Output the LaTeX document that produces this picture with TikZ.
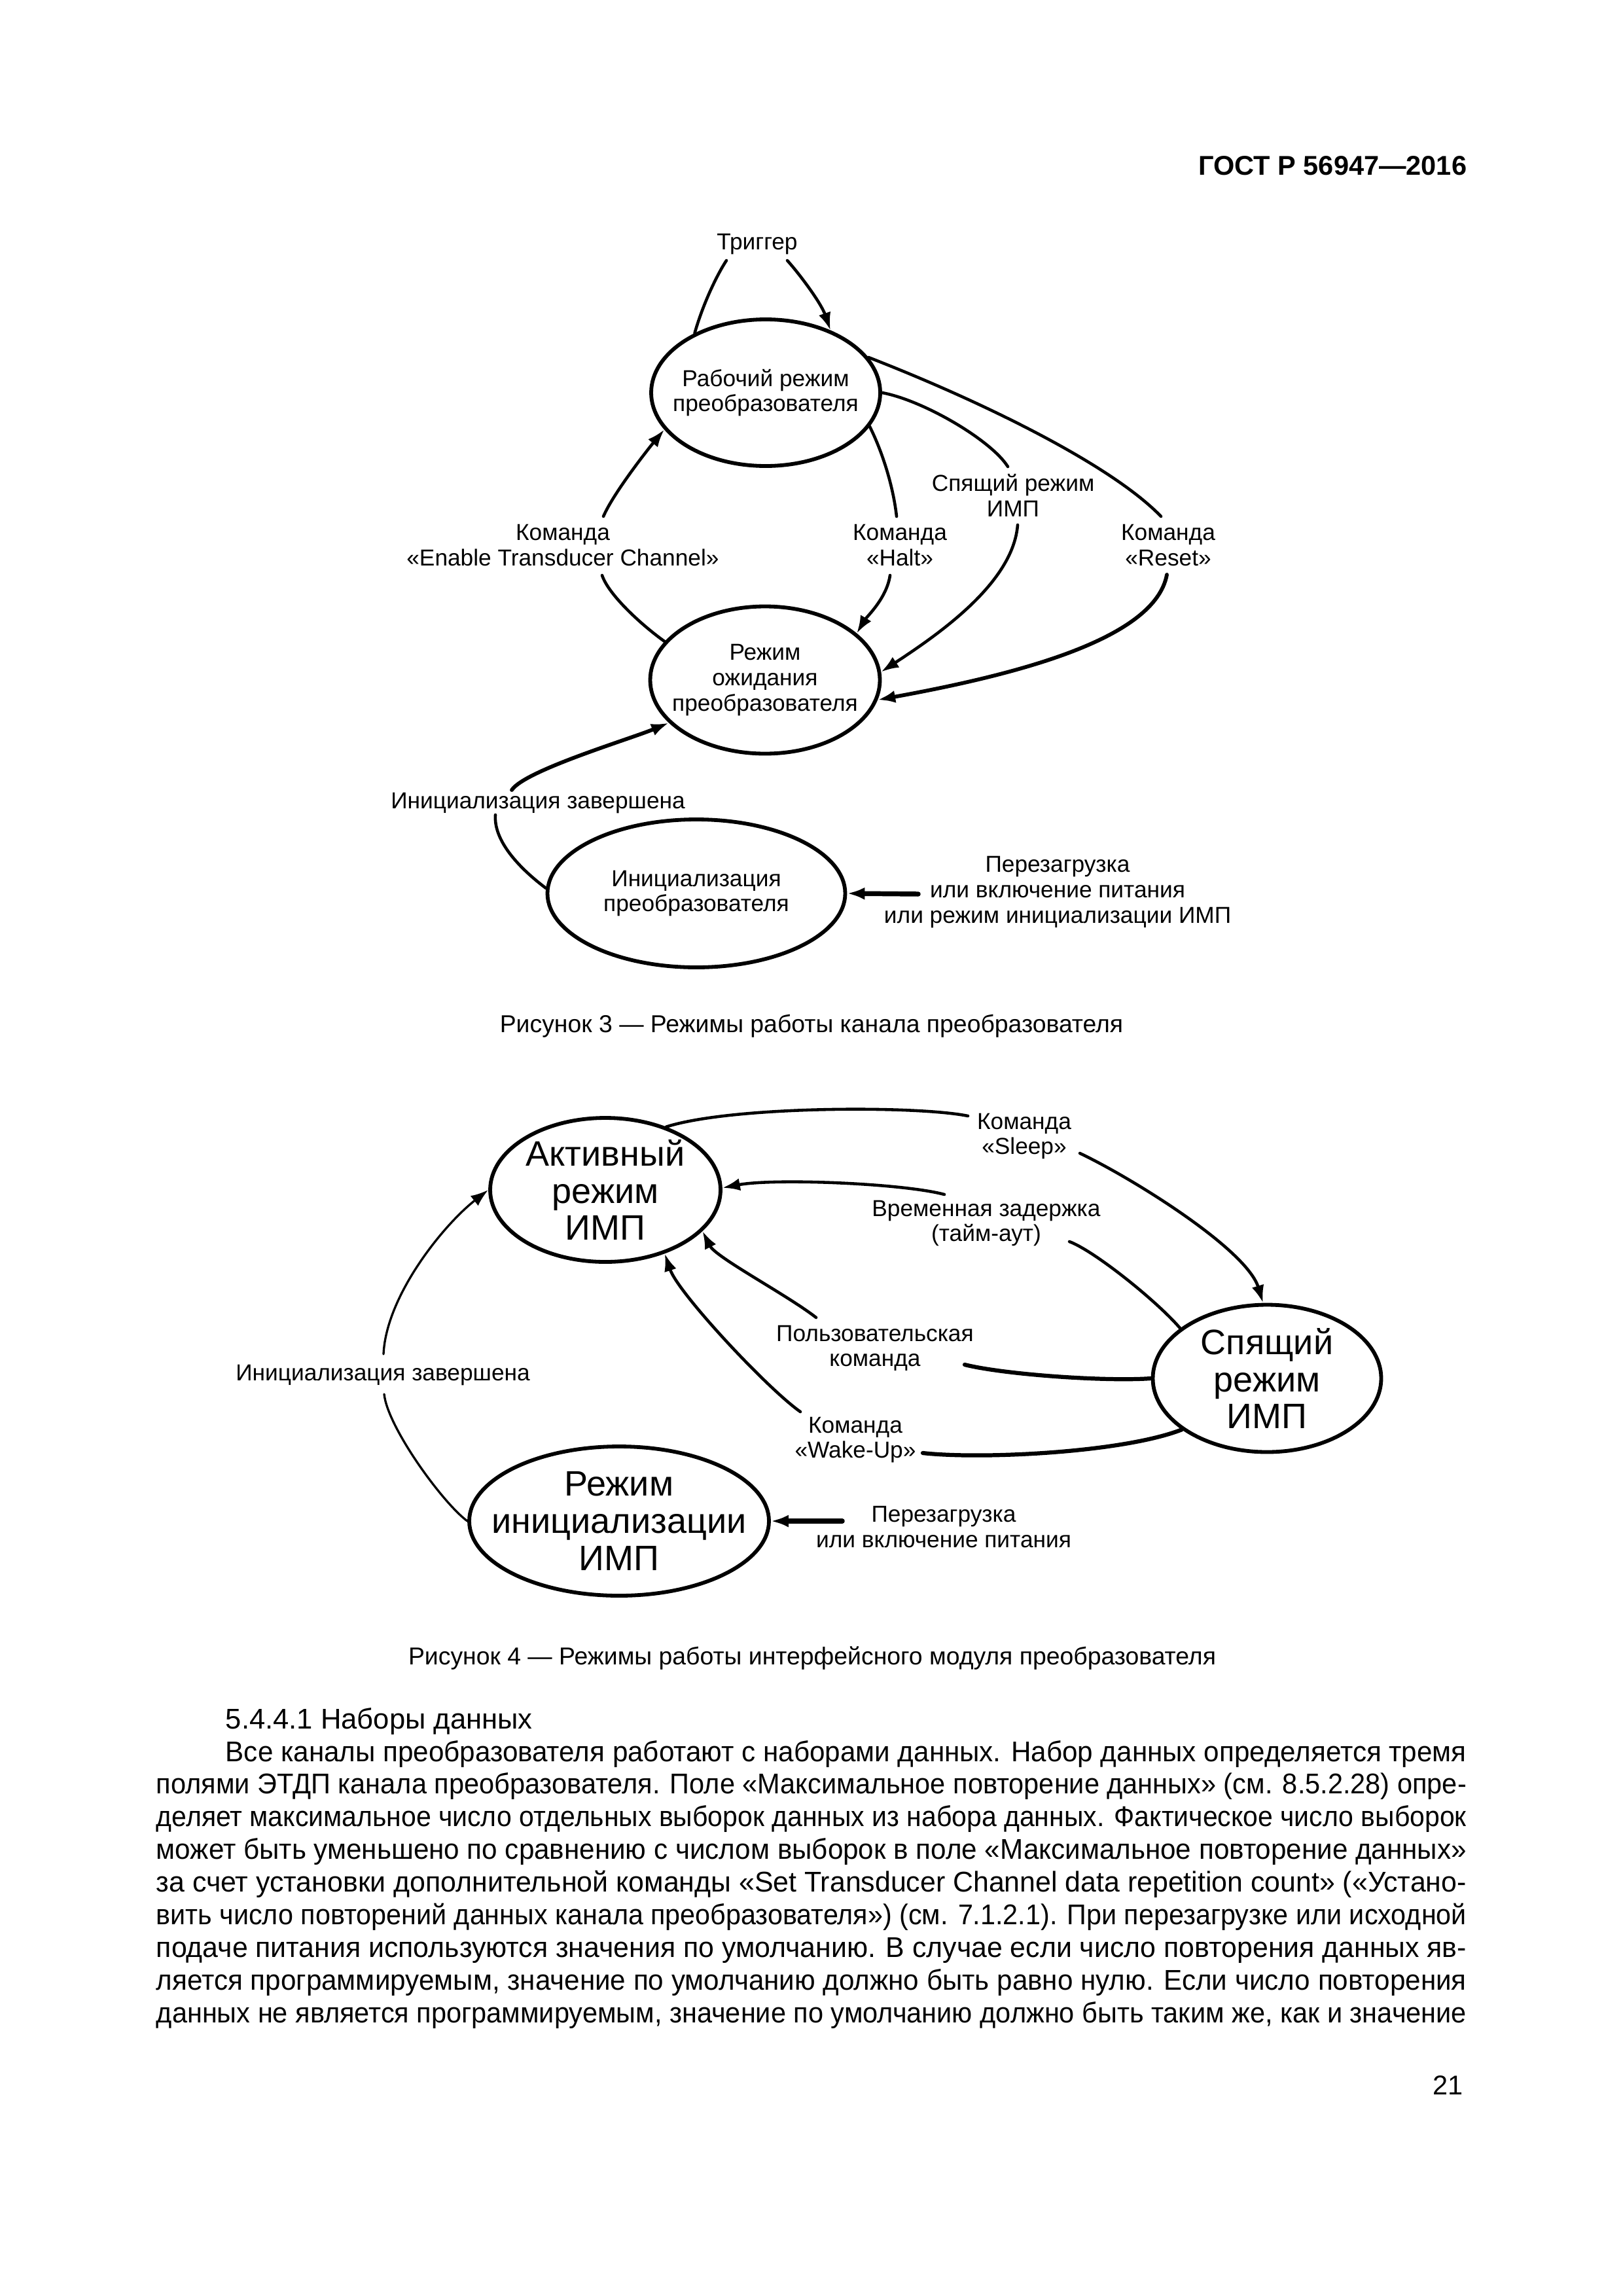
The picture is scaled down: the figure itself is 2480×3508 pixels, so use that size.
\documentclass[tikz,border=0pt]{standalone}
\usepackage{fontspec}
\setmainfont{Liberation Sans}
\usepackage{graphicx}
\usepackage{tikz}
\usetikzlibrary{arrows.meta,shapes.geometric}
\newdimen\pxu
\pxu=0.084667mm
\newsavebox\linebox
\newcommand\bodyline[2]{%
  \sbox\linebox{#2}%
  \ifdim\wd\linebox>#1\relax
    \resizebox{#1}{\height}{\usebox\linebox}%
  \else
    \makebox[#1][s]{#2}%
  \fi}
\tikzset{
    every picture/.style={line cap=round,line join=round},
    modenode/.style={ellipse,draw,line width=1.4pt,inner sep=-10pt,
      align=center,font=\fontsize{8.5}{9.3}\selectfont},
    bigmode/.style={modenode,font=\fontsize{13}{13.7}\selectfont},
    cmdlabel/.style={inner sep=2pt,align=center,
      font=\fontsize{8.5}{9.3}\selectfont},
    flowline/.style={line width=1.1pt},
    flowarrow/.style={flowline,-{Latex[length=6.5pt,width=4.6pt]}},
    thickline/.style={line width=1.5pt},
    thinline/.style={line width=0.8pt},
    captext/.style={anchor=base,inner sep=0pt,
      font=\fontsize{9}{10}\selectfont}
}

\begin{document}
\begin{tikzpicture}[x=0.084667mm,y=-0.084667mm]
  \fill[white] (0,0) rectangle (2480,3508);
  \node[anchor=base east,inner sep=0pt,font=\fontsize{10}{12}\selectfont\bfseries]
    (gost) at (2242,267) {ГОСТ Р 56947—2016};

  % Figure 3
  \node[modenode,minimum width=350\pxu,minimum height=224\pxu] (work) at (1170,600)
    {Рабочий режим\\преобразователя};
  \node[modenode,minimum width=351\pxu,minimum height=225\pxu] (standby) at (1169,1039)
    {Режим\\ожидания\\преобразователя};
  \node[modenode,minimum width=455\pxu,minimum height=226\pxu] (initxd) at (1064,1365)
    {Инициализация\\преобразователя};
  \node[cmdlabel] (trig) at (1157,373) {Триггер};
  \node[cmdlabel] (enable) at (860,833) {Команда\\«Enable Transducer Channel»};
  \node[cmdlabel] (halt) at (1375,833) {Команда\\«Halt»};
  \node[cmdlabel] (sleepimp) at (1548,757) {Спящий режим\\ИМП};
  \node[cmdlabel] (reset) at (1785,833) {Команда\\«Reset»};
  \node[cmdlabel] (done3) at (822,1227) {Инициализация завершена};
  \node[cmdlabel] (boot3) at (1616,1363)
    {Перезагрузка\\или включение питания\\или режим инициализации ИМП};
  \coordinate (boot3tail) at (1403,1366);

  \draw[flowline] (work.140) .. controls +(14,-49) and +(-12,18) .. ([shift={(-47,25)}]trig.center);
  \draw[flowarrow] ([shift={(46,25)}]trig.center) .. controls +(19,21) and +(-14,-41) .. (work.44);
  \draw[flowline] (standby.159) .. controls +(-35,-25) and +(10,30) .. ([shift={(60,46)}]enable.center);
  \draw[flowarrow] ([shift={(62,-44)}]enable.center) .. controls +(15,-35) and +(-25,30) .. (work.200);
  \draw[flowline] (work.342) .. controls +(20,40) and +(-5,-45) .. ([shift={(-5,-44)}]halt.center);
  \draw[flowarrow] ([shift={(-15,46)}]halt.center) .. controls +(-5,35) and +(15,-25) .. (standby.27);
  \draw[flowline] (work.0) .. controls +(64,12) and +(-25,-40) .. ([shift={(-8,-44)}]sleepimp.center);
  \draw[flowarrow] ([shift={(7,45)}]sleepimp.center) .. controls +(-7,88) and +(90,-59) .. (standby.4);
  \draw[flowline] (work.19) .. controls +(180,70) and +(-74,-77) .. ([shift={(-11,-44)}]reset.center);
  \draw[flowarrow,line width=1.4pt] ([shift={(-2,45)}]reset.center) .. controls +(-18,97) and +(220,-40) .. (standby.350);
  \draw[flowline] (initxd.178) .. controls +(-40,-30) and +(-3,40) .. ([shift={(-65,18)}]done3.center);
  \draw[flowarrow,line width=1.4pt] ([shift={(-40,-20)}]done3.center) .. controls +(20,-30) and +(-60,25) .. (standby.204);
  \draw[flowarrow,line width=1.8pt] (boot3tail) -- (initxd.east);

  \node[captext] (cap3) at (1240,1577) {Рисунок 3 — Режимы работы канала преобразователя};

  % Figure 4
  \node[bigmode,minimum width=352\pxu,minimum height=220\pxu] (active) at (925,1818)
    {Активный\\режим\\ИМП};
  \node[bigmode,minimum width=349\pxu,minimum height=225\pxu] (sleeping) at (1936,2106)
    {Спящий\\режим\\ИМП};
  \node[bigmode,minimum width=458\pxu,minimum height=228\pxu] (initimp) at (946,2324)
    {Режим\\инициализации\\ИМП};
  \node[cmdlabel] (sleepcmd) at (1565,1736) {Команда\\«Sleep»};
  \node[cmdlabel] (timeout) at (1507,1869) {Временная задержка\\(тайм-аут)};
  \node[cmdlabel] (usercmd) at (1337,2060) {Пользовательская\\команда};
  \node[cmdlabel] (wakeup) at (1307,2200) {Команда\\«Wake-Up»};
  \node[cmdlabel] (done4) at (585,2101) {Инициализация завершена};
  \node[cmdlabel] (boot4) at (1442,2333) {Перезагрузка\\или включение питания};
  \coordinate (boot4tail) at (1287,2324);

  \draw[flowline] (active.46) .. controls +(101,-32) and +(-79,-16) .. ([shift={(-86,-31)}]sleepcmd.center);
  \draw[flowarrow] ([shift={(85,26)}]sleepcmd.center) .. controls +(80,38) and +(-25,-82) .. (sleeping.93);
  \draw[flowline] (sleeping.150) .. controls +(-38,-44) and +(36,13) .. ([shift={(127,28)}]timeout.center);
  \draw[flowarrow] ([shift={(-64,-44)}]timeout.center) .. controls +(-63,-17) and +(79,-15) .. (active.1);
  \draw[flowline,thickline] (sleeping.180) .. controls +(-70,5) and +(60,15) .. ([shift={(137,25)}]usercmd.center);
  \draw[flowarrow] ([shift={(-90,-47)}]usercmd.center) .. controls +(-45,-35) and +(20,40) .. (active.337);
  \draw[flowline,thickline] (sleeping.211) .. controls +(-90,35) and +(90,10) .. ([shift={(103,20)}]wakeup.center);
  \draw[flowarrow] ([shift={(-84,-43)}]wakeup.center) .. controls +(-50,-35) and +(20,60) .. (active.313);
  \draw[flowline,thinline] (initimp.180) .. controls +(-38,-28) and +(5,50) .. ([shift={(2,29)}]done4.center);
  \draw[flowarrow,thinline] ([shift={(1,-32)}]done4.center) .. controls +(4,-89) and +(-69,54) .. (active.180);
  \draw[flowarrow,line width=1.8pt] (boot4tail) -- (initimp.east);

  \node[captext] (cap4) at (1241,2543) {Рисунок 4 — Режимы работы интерфейсного модуля преобразователя};

  % text below the figures
  \node[anchor=base west,inner sep=0pt,font=\fontsize{10.5}{12.04}\selectfont] (body) at (238,2641)
    {\parbox[t]{2002\pxu}{\setlength{\parindent}{0pt}\setlength{\parskip}{0pt}%
    \hspace*{106\pxu}5.4.4.1 Наборы данных\par
    \hspace*{106\pxu}\bodyline{1896\pxu}{Все каналы преобразователя работают с наборами данных. Набор данных определяется тремя}\par
    \bodyline{2002\pxu}{полями ЭТДП канала преобразователя. Поле «Максимальное повторение данных» (см. 8.5.2.28) опре-}\par
    \bodyline{2002\pxu}{деляет максимальное число отдельных выборок данных из набора данных. Фактическое число выборок}\par
    \bodyline{2002\pxu}{может быть уменьшено по сравнению с числом выборок в поле «Максимальное повторение данных»}\par
    \bodyline{2002\pxu}{за счет установки дополнительной команды «Set Transducer Channel data repetition count» («Устано-}\par
    \bodyline{2002\pxu}{вить число повторений данных канала преобразователя») (см. 7.1.2.1). При перезагрузке или исходной}\par
    \bodyline{2002\pxu}{подаче питания используются значения по умолчанию. В случае если число повторения данных яв-}\par
    \bodyline{2002\pxu}{ляется программируемым, значение по умолчанию должно быть равно нулю. Если число повторения}\par
    \bodyline{2002\pxu}{данных не является программируемым, значение по умолчанию должно быть таким же, как и значение}}};
  \node[anchor=base east,inner sep=0pt,font=\fontsize{10}{12}\selectfont] (pagenum) at (2236,3200) {21};
\end{tikzpicture}
\end{document}
